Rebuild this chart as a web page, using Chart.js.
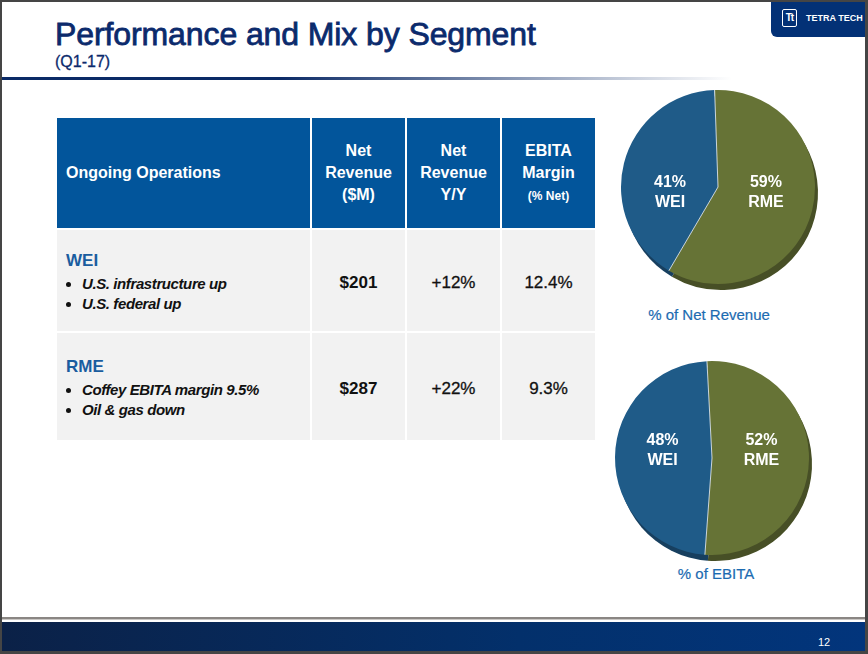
<!DOCTYPE html>
<html>
<head>
<meta charset="utf-8">
<script src="https://cdn.jsdelivr.net/npm/chart.js@4.4.0/dist/chart.umd.min.js"></script>
<style>
  body { margin: 0; background: #454545; font-family: "Liberation Sans", Arial, sans-serif; }
  #slide { position: relative; width: 868px; height: 654px; background: #454545; overflow: hidden; }
  #page { position: absolute; left: 2px; top: 2px; width: 863px; height: 649px; background: #fff; overflow: hidden; }
  .abs { position: absolute; }
  #title { left: 53px; top: 14px; font-size: 32px; color: #0b2a6c; letter-spacing: -0.1px; white-space: nowrap; -webkit-text-stroke: 0.8px #0b2a6c; }
  #subtitle { left: 53px; top: 51px; font-size: 16px; color: #0b2a6c; -webkit-text-stroke: 0.3px #0b2a6c; }
  #rule { left: 0; top: 75px; width: 730px; height: 3px; background: linear-gradient(to right, #0b2a66 0%, #0b2a66 38%, #ffffff 100%); }
  #logo { left: 769px; top: 0; width: 94px; height: 35px; background: #033176; border-bottom-left-radius: 6px; }
  #logo .icon { position: absolute; left: 11px; top: 7px; width: 13px; height: 16px; border: 1.5px solid #fff; border-radius: 2px; color: #fff; font-size: 10px; font-weight: bold; line-height: 16px; text-align: center; letter-spacing: -1px; }
  #logo .name { position: absolute; left: 35px; top: 11px; color: #fff; font-size: 9px; font-weight: bold; white-space: nowrap; }
  table { position: absolute; left: 53px; top: 114px; border-collapse: collapse; }
  th, td { border: 2px solid #fff; padding: 0; }
  th { background: #02559b; color: #fff; font-size: 16px; font-weight: bold; height: 110px; line-height: 22px; }
  th.first { text-align: left; padding-left: 9px; width: 244px; }
  th.num { width: 93px; }
  th small { font-size: 12px; }
  td { background: #f2f2f2; height: 97px; padding-top: 4px; }
  tr.last td { height: 103px; }
  td.seg { padding-left: 9px; vertical-align: middle; }
  td.seg .name { color: #1a5d9f; font-weight: bold; font-size: 17px; margin-bottom: 3px; }
  td.seg ul { margin: 0; padding-left: 16px; }
  td.seg li { font-style: italic; font-weight: bold; font-size: 15px; color: #111; line-height: 20px; letter-spacing: -0.4px; }
  td.val { text-align: center; font-size: 17px; color: #111; -webkit-text-stroke: 0.3px #111; }
  td.val.b { font-weight: bold; -webkit-text-stroke: 0; }
  .cap { color: #1c6bb1; font-size: 15px; white-space: nowrap; transform: translateX(-50%); -webkit-text-stroke: 0.2px #1c6bb1; }
  #footline { left: 0; top: 615px; width: 863px; height: 2px; background: #8a8683; border-bottom: 1px solid #c9c6c3; }
  #footer { left: 0; top: 620px; width: 863px; height: 29px; background: linear-gradient(to right, #0b2147 0%, #03306b 60%, #02357c 100%); }
  #pagenum { left: 816px; top: 634px; color: #fff; font-size: 11px; }
</style>
</head>
<body>
<div id="slide">
  <div id="page">
    <div id="title" class="abs">Performance and Mix by Segment</div>
    <div id="subtitle" class="abs">(Q1-17)</div>
    <div id="rule" class="abs"></div>
    <div id="logo" class="abs"><div class="icon">Tt</div><div class="name">TETRA TECH</div></div>
    <table id="tbl"></table>
    <div class="abs" style="left:611px; top:80px; width:210px; height:210px;"><canvas id="pieRevenue"></canvas></div>
    <div class="abs cap" style="left:707px; top:304px;">% of Net Revenue</div>
    <div class="abs" style="left:605px; top:351px; width:210px; height:210px;"><canvas id="pieEbita"></canvas></div>
    <div class="abs cap" style="left:714px; top:563px;">% of EBITA</div>
    <div id="footline" class="abs"></div>
    <div id="footer" class="abs"></div>
    <div id="pagenum" class="abs">12</div>
  </div>
</div>
<script>
// table data
var segments = ['WEI', 'RME'];
var segmentNotes = [
  ['U.S. infrastructure up', 'U.S. federal up'],
  ['Coffey EBITA margin 9.5%', 'Oil & gas down']
];
var netRevenue = ['$201', '$287'];
var netRevenueYoY = ['+12%', '+22%'];
var ebitaMargin = ['12.4%', '9.3%'];

// pie data (% share, same order as segments)
var revenueShare = [41, 59];
var ebitaShare = [48, 52];

var colors = ['#1f5b88', '#667336'];
var shadowColors = ['#173f5f', '#474f26'];

// build the table
var html = '<tr><th class="first">Ongoing Operations</th>' +
  '<th class="num">Net<br>Revenue<br>($M)</th>' +
  '<th class="num">Net<br>Revenue<br>Y/Y</th>' +
  '<th class="num">EBITA<br>Margin<br><small>(% Net)</small></th></tr>';
for (var i = 0; i < segments.length; i++) {
  html += '<tr' + (i == segments.length - 1 ? ' class="last"' : '') + '><td class="seg"><div class="name">' + segments[i] + '</div><ul>';
  segmentNotes[i].forEach(function (n) { html += '<li>' + n.replace('&', '&amp;') + '</li>'; });
  html += '</ul></td>' +
    '<td class="val b">' + netRevenue[i] + '</td>' +
    '<td class="val">' + netRevenueYoY[i] + '</td>' +
    '<td class="val">' + ebitaMargin[i] + '</td></tr>';
}
document.getElementById('tbl').innerHTML = html;

// fake 3d depth + separators + inside labels
var pieDecor = {
  id: 'pieDecor',
  beforeDatasetsDraw: function (chart) {
    var ctx = chart.ctx;
    var arcs = chart.getDatasetMeta(0).data;
    ctx.save();
    arcs.forEach(function (a, i) {
      var p = a.getProps(['x', 'y', 'startAngle', 'endAngle', 'outerRadius']);
      ctx.fillStyle = chart.data.datasets[0].shadow[i];
      ctx.beginPath();
      ctx.moveTo(p.x + 3, p.y + 6);
      ctx.arc(p.x + 3, p.y + 6, p.outerRadius, p.startAngle, p.endAngle);
      ctx.closePath();
      ctx.fill();
    });
    ctx.restore();
  },
  afterDatasetsDraw: function (chart, args, opts) {
    var ctx = chart.ctx;
    var ds = chart.data.datasets[0];
    var arcs = chart.getDatasetMeta(0).data;
    var dy = opts.labelShift || 0;
    ctx.save();
    arcs.forEach(function (a, i) {
      var p = a.getProps(['x', 'y', 'startAngle', 'endAngle', 'outerRadius']);
      ctx.strokeStyle = 'rgba(255,255,255,0.75)';
      ctx.lineWidth = 1;
      ctx.beginPath();
      ctx.moveTo(p.x, p.y);
      ctx.lineTo(p.x + Math.cos(p.startAngle) * p.outerRadius, p.y + Math.sin(p.startAngle) * p.outerRadius);
      ctx.stroke();
      var mid = (p.startAngle + p.endAngle) / 2;
      var lx = p.x + Math.cos(mid) * p.outerRadius * 0.51;
      ctx.fillStyle = '#fff';
      ctx.font = 'bold 16px "Liberation Sans", Arial, sans-serif';
      ctx.textAlign = 'center';
      ctx.textBaseline = 'middle';
      ctx.fillText(ds.data[i] + '%', lx, p.y - 9 + dy);
      ctx.fillText(chart.data.labels[i], lx, p.y + 11 + dy);
    });
    ctx.restore();
  }
};

function makePie(id, shares, rotation, labelShift) {
  // RME first so it runs clockwise from the top
  var order = [1, 0];
  new Chart(document.getElementById(id), {
    type: 'pie',
    data: {
      labels: order.map(function (k) { return segments[k]; }),
      datasets: [{
        data: order.map(function (k) { return shares[k]; }),
        backgroundColor: order.map(function (k) { return colors[k]; }),
        shadow: order.map(function (k) { return shadowColors[k]; }),
        borderWidth: 0
      }]
    },
    options: {
      responsive: true,
      maintainAspectRatio: false,
      animation: false,
      rotation: rotation,
      layout: { padding: 8 },
      plugins: {
        legend: { display: false },
        tooltip: { enabled: false },
        pieDecor: { labelShift: labelShift }
      }
    },
    plugins: [pieDecor]
  });
}

makePie('pieRevenue', revenueShare, -2, 5);
makePie('pieEbita', ebitaShare, -3, -8);
</script>
</body>
</html>
